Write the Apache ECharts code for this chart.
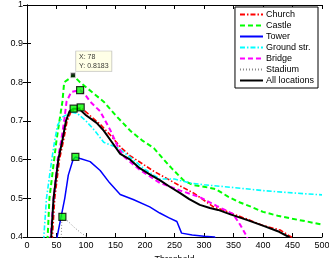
<!DOCTYPE html>
<html>
<head>
<meta charset="UTF-8">
<title>F-measure vs threshold</title>
<script src="https://cdn.jsdelivr.net/npm/echarts@6/dist/echarts.min.js"></script>
<style type="text/css">
body{ margin:0; padding:0; background:#fff; }
#chart{ width:329px; height:258px; }
</style>
</head>
<body>
<div id="chart"></div>
<script type="text/javascript">
// values, [threshold, F-measure]
var church = [[43,0.39],[43,0.40],[47,0.50],[55,0.60],[62,0.65],[68,0.70],[75,0.725],[91,0.735],[110,0.71],[125,0.69],[141,0.664],[160,0.63],[175,0.61],[191,0.594],[215,0.57],[242,0.547],[262,0.53],[282,0.514],[300,0.495],[316,0.478],[332,0.47],[349,0.46],[375,0.445],[400,0.43],[429,0.418],[448,0.40],[450,0.39]];
var castle = [[35,0.39],[35,0.40],[38,0.50],[46,0.60],[50,0.65],[55,0.70],[60,0.75],[63,0.80],[72,0.81],[78,0.8183],[90,0.80],[110,0.775],[130,0.75],[150,0.715],[175,0.675],[195,0.65],[215,0.63],[232,0.60],[245,0.578],[265,0.547],[280,0.535],[300,0.53],[320,0.524],[340,0.505],[360,0.49],[380,0.478],[400,0.465],[425,0.455],[450,0.447],[475,0.44],[500,0.432]];
var tower = [[51,0.39],[51,0.40],[64,0.50],[70,0.56],[78,0.60],[82,0.607],[90,0.603],[107,0.595],[124,0.572],[140,0.54],[158,0.51],[180,0.497],[208,0.478],[225,0.462],[240,0.45],[254,0.44],[262,0.41],[280,0.405],[300,0.402],[318,0.40],[320,0.39]];
var groundStr = [[28.5,0.39],[28.5,0.40],[33,0.50],[42,0.60],[47,0.65],[52,0.69],[60,0.71],[75,0.723],[85,0.72],[100,0.70],[115,0.675],[130,0.645],[155,0.63],[180,0.60],[200,0.575],[225,0.55],[250,0.55],[275,0.54],[300,0.535],[350,0.528],[400,0.52],[450,0.514],[500,0.509]];
var bridge = [[40,0.39],[40,0.40],[45,0.50],[52,0.60],[58,0.65],[63,0.70],[67,0.75],[75,0.775],[90,0.78],[100,0.765],[107,0.75],[124,0.725],[141,0.677],[155,0.63],[165,0.607],[190,0.575],[225,0.54],[260,0.52],[293,0.503],[322,0.48],[349,0.46],[362,0.43],[373,0.40],[374,0.39]];
var stadium = [[58,0.39],[58,0.40],[59,0.44],[60,0.452],[70,0.44],[80,0.425],[92,0.41],[102,0.40],[104,0.39]];
var allLocations = [[41,0.39],[41,0.40],[45,0.50],[53,0.60],[60,0.65],[66,0.70],[72,0.725],[79,0.732],[88,0.732],[100,0.715],[118,0.695],[130,0.675],[144,0.645],[158,0.615],[175,0.60],[191,0.578],[208,0.562],[225,0.547],[242,0.53],[259,0.514],[275,0.498],[293,0.483],[310,0.475],[324,0.47],[346,0.458],[375,0.443],[402,0.428],[425,0.415],[444,0.40],[446,0.39]];
// peak markers
var peaks = [[90,0.78],[91,0.735],[79,0.732],[82,0.607],[60,0.452]];
var tipPoint = [[78,0.8183]];
var xTicks = [0,500,50];
var yTicks = [0.4,1,0.1];

var myChart = echarts.init(document.getElementById('chart'));
var font = 'Liberation Sans, Arial, sans-serif';

function lineSeries(name, data, color, type, width) {
    return {
        name: name, type: 'line', data: data, symbol: 'none', showSymbol: false,
        lineStyle: { color: color, type: type, width: width },
        itemStyle: { color: color },
        clip: true, animation: false
    };
}

var option = {
    animation: false,
    textStyle: { fontFamily: font },
    grid: { left: 27, right: 7, top: 5, bottom: 21, outerBoundsMode: 'none', containLabel: false },
    legend: {
        data: ['Church','Castle','Tower','Ground str.','Bridge','Stadium','All locations'],
        orient: 'vertical', right: 11, top: 7,
        padding: [3,4,3,4], itemGap: 2, itemWidth: 23, itemHeight: 8.5,
        backgroundColor: '#fff', borderColor: '#000', borderWidth: 1,
        itemStyle: { opacity: 0 },
        textStyle: { fontSize: 9, color: '#000', fontFamily: font, padding: [0,0,0,-2] }
    },
    xAxis: [{
        type: 'value', min: xTicks[0], max: xTicks[1], interval: xTicks[2],
        name: 'Threshold', nameLocation: 'middle', nameGap: 17,
        nameTextStyle: { fontSize: 9, color: '#000' },
        axisLine: { lineStyle: { color: '#000', width: 1 } },
        axisTick: { inside: true, length: 4, lineStyle: { color: '#000' } },
        axisLabel: { fontSize: 9, color: '#000', margin: 4 },
        splitLine: { show: false }
    }, {
        type: 'value', position: 'top', min: xTicks[0], max: xTicks[1], interval: xTicks[2],
        axisLine: { lineStyle: { color: '#000', width: 1 } },
        axisTick: { inside: true, length: 4, lineStyle: { color: '#000' } },
        axisLabel: { show: false }, splitLine: { show: false }
    }],
    yAxis: [{
        type: 'value', min: yTicks[0], max: yTicks[1], interval: yTicks[2],
        name: 'F\u2212measure', nameLocation: 'middle', nameGap: 19,
        nameTextStyle: { fontSize: 9, color: '#000' },
        axisLine: { show: true, lineStyle: { color: '#000', width: 1 } },
        axisTick: { show: true, inside: true, length: 4, lineStyle: { color: '#000' } },
        axisLabel: { fontSize: 9, color: '#000', margin: 4,
            formatter: function (v) { return v === 1 ? '1' : v.toFixed(1); } },
        splitLine: { show: false }
    }, {
        type: 'value', position: 'right', min: yTicks[0], max: yTicks[1], interval: yTicks[2],
        axisLine: { show: true, lineStyle: { color: '#000', width: 1 } },
        axisTick: { show: true, inside: true, length: 4, lineStyle: { color: '#000' } },
        axisLabel: { show: false }, splitLine: { show: false }
    }],
    series: [
        lineSeries('Church', church, '#ff0000', [5,2,1.5,2], 1.6),
        lineSeries('Castle', castle, '#00ff00', [5,3], 2),
        lineSeries('Tower', tower, '#0000ff', 'solid', 1.5),
        lineSeries('Ground str.', groundStr, '#00ffff', [5,2,1.5,2], 1.6),
        lineSeries('Bridge', bridge, '#ff00ff', [5,3], 2),
        lineSeries('Stadium', stadium, '#888888', [1,2], 1),
        lineSeries('All locations', allLocations, '#000000', 'solid', 2),
        {
            name: 'peaks', type: 'scatter', data: peaks, symbol: 'rect', symbolSize: 7,
            itemStyle: { color: '#00ff00', borderColor: '#000', borderWidth: 1.2 },
            z: 5, animation: false
        },
        {
            name: 'tip', type: 'scatter', data: tipPoint, symbol: 'rect', symbolSize: 5,
            itemStyle: { color: '#000', borderColor: '#ddd', borderWidth: 1 },
            label: {
                show: true, position: [6, -21],
                formatter: function (p) { return 'X: ' + p.value[0] + '\nY: ' + p.value[1].toFixed(4); },
                fontSize: 7, lineHeight: 8.5, color: '#000', fontFamily: font,
                backgroundColor: '#ffffe1', borderColor: '#aaa', borderWidth: 0.6,
                padding: [2,3,1,3]
            },
            z: 6, animation: false
        }
    ]
};

myChart.setOption(option);
</script>
</body>
</html>
